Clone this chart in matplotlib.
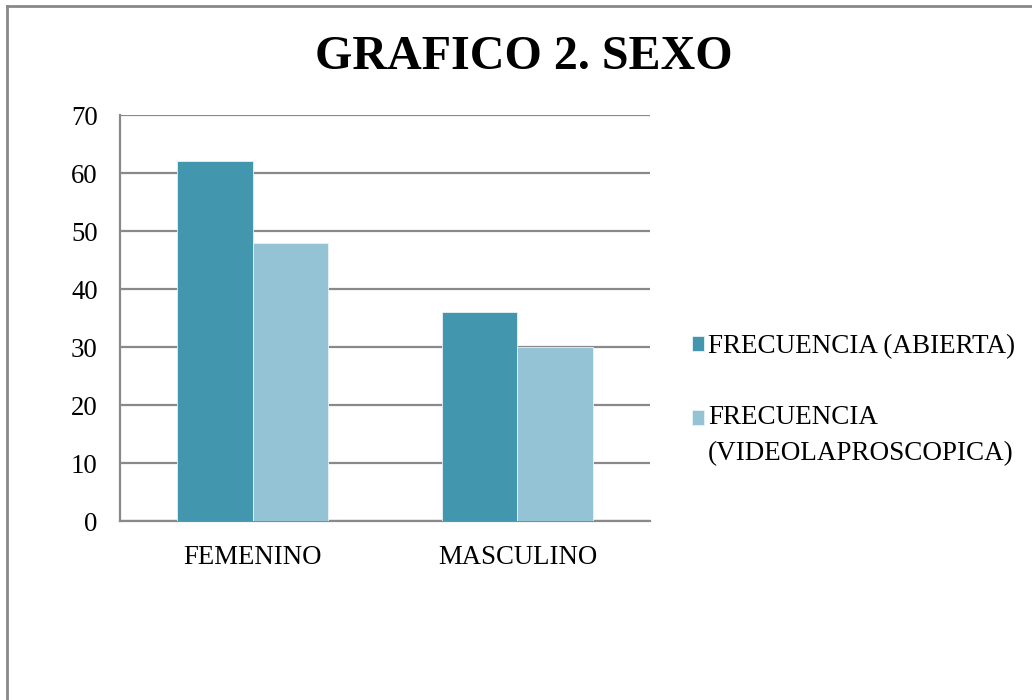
import matplotlib
matplotlib.use('Agg')
import matplotlib.pyplot as plt
from matplotlib.lines import Line2D
import numpy as np

categories = ['FEMENINO', 'MASCULINO']
series_names = ['FRECUENCIA (ABIERTA)', 'FRECUENCIA\n(VIDEOLAPROSCOPICA)']
abierta = [62, 36]
video = [48, 30]
yticks = [0, 10, 20, 30, 40, 50, 60, 70]

colors = ['#4297AE', '#93C3D5']
gray = '#898989'

plt.rcParams['font.family'] = ['Liberation Serif', 'DejaVu Serif']

fig = plt.figure(figsize=(10.32, 7.0), dpi=100)
ax = fig.add_axes([0.1163, 0.2557, 0.5135, 0.58])

x = np.arange(len(categories))
width = 0.285
ax.bar(x - width / 2, abierta, width, color=colors[0], edgecolor='#E8F2F5', linewidth=0.6,
       label=series_names[0], zorder=3)
ax.bar(x + width / 2, video, width, color=colors[1], edgecolor='#E8F2F5', linewidth=0.6,
       label=series_names[1], zorder=3)

ax.set_xlim(-0.5, len(categories) - 0.5)
ax.set_ylim(0, 70)
ax.set_yticks(yticks)
ax.set_xticks(x)
ax.set_xticklabels(categories)
ax.tick_params(axis='both', length=0, labelsize=19.3, colors='black')
ax.tick_params(axis='y', pad=16)
ax.tick_params(axis='x', pad=17)
ax.yaxis.grid(True, color=gray, linewidth=1.6, zorder=0)
ax.set_axisbelow(True)
for s in ['top', 'right']:
    ax.spines[s].set_visible(False)
for s in ['left', 'bottom']:
    ax.spines[s].set_color(gray)
    ax.spines[s].set_linewidth(1.6)

fig.text(0.508, 0.918, 'GRAFICO 2. SEXO', ha='center', va='center',
         fontsize=34.6, fontweight='bold')

fs = 19.5
ls = 1.55
leg = fig.legend(loc='upper left', bbox_to_anchor=(0.6705, 0.523), frameon=False,
                 fontsize=fs, handlelength=0.45, handleheight=0.45,
                 handletextpad=0.15, labelspacing=1.72, borderpad=0, borderaxespad=0)
for t in leg.get_texts():
    t.set_linespacing(ls)
# put the swatch of the two-line entry next to its first line
h = leg.legend_handles[1]
h.set_y(h.get_y() + 0.5 * fs * ls * 0.85)

# page frame lines (left and top)
fig.add_artist(Line2D([0.0068, 0.0068], [0, 0.991], color=gray, linewidth=2))
fig.add_artist(Line2D([0.0068, 1.0], [0.991, 0.991], color=gray, linewidth=2))

fig.savefig('out.png', dpi=100)
